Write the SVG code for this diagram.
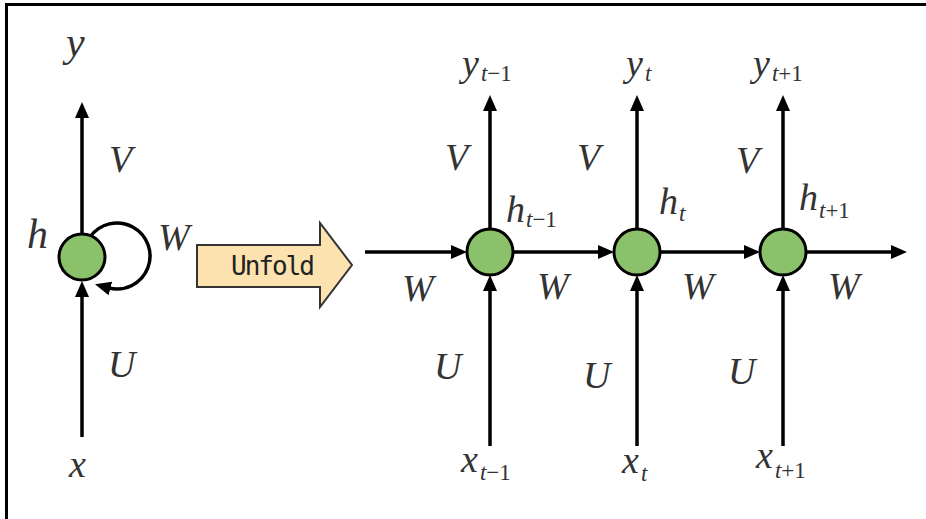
<svg xmlns="http://www.w3.org/2000/svg" width="926" height="519" viewBox="0 0 926 519">
<defs>
<marker id="ah" viewBox="0 0 16 14" markerWidth="16" markerHeight="14" refX="2" refY="7" orient="auto" markerUnits="userSpaceOnUse">
<path d="M0,0 L16,7 L0,14 z" fill="#000"/>
</marker>
<style>
.ln{stroke:#000;stroke-width:3.5;fill:none;marker-end:url(#ah)}
.nd{fill:#8bc16b;stroke:#000;stroke-width:3}
.sb{font-size:23px}
.up{font-style:normal}
.frame{stroke:#000;stroke-width:3;fill:none}
</style>
</defs>
<rect x="0" y="0" width="926" height="519" fill="#fff"/>
<path class="frame" d="M6.5,519 L6.5,4.5 L926,4.5"/>

<g id="connectors">
<path class="ln" d="M82,236 L82,116"/>
<path class="ln" d="M82,437 L82,295"/>
<path class="ln" d="M90,237.1 A33,33 0 1 1 108.5,287.9"/>
<path class="ln" d="M365,252 L453,252"/>
<path class="ln" d="M513,252 L600,252"/>
<path class="ln" d="M660,252 L746,252"/>
<path class="ln" d="M806,252 L893,252"/>
<path class="ln" d="M490,229 L490,109"/>
<path class="ln" d="M637,229 L637,109"/>
<path class="ln" d="M783,229 L783,109"/>
<path class="ln" d="M490,446 L490,289"/>
<path class="ln" d="M637,446 L637,289"/>
<path class="ln" d="M783,446 L783,289"/>
</g>

<g id="node-h">
<circle class="nd" cx="82" cy="257" r="23"/>
</g>
<g id="node-h-t-1">
<circle class="nd" cx="490" cy="252" r="23"/>
</g>
<g id="node-h-t">
<circle class="nd" cx="637" cy="252" r="23"/>
</g>
<g id="node-h-t+1">
<circle class="nd" cx="783" cy="252" r="23"/>
</g>

<g id="unfold">
<path d="M197,245 L320,245 L320,223 L352,265 L320,307 L320,287 L197,287 Z" fill="#fce2ae" stroke="#333" stroke-width="2"/>
<text x="231" y="275" font-family="DejaVu Sans Mono, monospace" font-size="26" fill="#222" textLength="84" lengthAdjust="spacing">Unfold</text>
</g>

<g id="labels" font-family="Liberation Serif, serif" font-style="italic" font-size="38" fill="#333">
<text x="66" y="56" font-size="42">y</text>
<text x="109" y="172">V</text>
<text x="27" y="248" font-size="42">h</text>
<text x="158" y="250">W</text>
<text x="108" y="377">U</text>
<text x="69" y="477">x</text>

<text x="462" y="76">y<tspan class="sb" dx="2" dy="5">t<tspan class="up">−1</tspan></tspan></text>
<text x="626" y="76">y<tspan class="sb" dx="2" dy="5">t</tspan></text>
<text x="753" y="76">y<tspan class="sb" dx="2" dy="5">t<tspan class="up">+1</tspan></tspan></text>

<text x="445" y="170">V</text>
<text x="577" y="170">V</text>
<text x="736" y="173">V</text>

<text x="506" y="222">h<tspan class="sb" dx="1" dy="5">t<tspan class="up">−1</tspan></tspan></text>
<text x="659" y="214">h<tspan class="sb" dx="1" dy="7">t</tspan></text>
<text x="799" y="210">h<tspan class="sb" dx="1" dy="8">t<tspan class="up">+1</tspan></tspan></text>

<text x="402" y="301">W</text>
<text x="537" y="299">W</text>
<text x="682" y="299">W</text>
<text x="828" y="299">W</text>

<text x="434" y="379">U</text>
<text x="583" y="388">U</text>
<text x="728" y="384">U</text>

<text x="461" y="472">x<tspan class="sb" dx="2" dy="8">t<tspan class="up">−1</tspan></tspan></text>
<text x="622" y="473">x<tspan class="sb" dx="2" dy="8">t</tspan></text>
<text x="756" y="468">x<tspan class="sb" dx="2" dy="10">t<tspan class="up">+1</tspan></tspan></text>
</g>
</svg>
